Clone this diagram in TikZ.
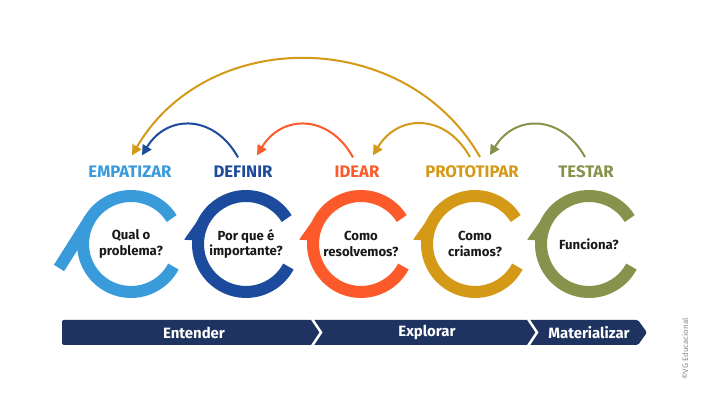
\documentclass[tikz,border=0pt]{standalone}
\usepackage{fontspec}
\setmainfont{Fira Sans}
\usetikzlibrary{arrows.meta,positioning}
\definecolor{cEmp}{HTML}{3A9BDA}
\definecolor{cDef}{HTML}{1C4A9C}
\definecolor{cIde}{HTML}{FD5A2B}
\definecolor{cPro}{HTML}{D49A17}
\definecolor{cTes}{HTML}{87924C}
\definecolor{cBar}{HTML}{1F3360}
\tikzset{
  ring/.style={line width=0.24cm},
  head/.style={font=\fontsize{9.5}{11}\selectfont\bfseries, inner sep=0.17cm},
  quest/.style={font=\fontsize{7.5}{9}\selectfont\bfseries, align=center, text=black!90},
  phase/.style={font=\fontsize{8.5}{10}\selectfont\bfseries, text=white},
}
\begin{document}
\begin{tikzpicture}[x=0.02cm,y=0.02cm]
    \fill[white] (0,0) rectangle (701,401);
    \useasboundingbox (0,0) rectangle (701,401);

    % rings and questions
    \foreach \n/\cx/\col/\q in {emp/131/cEmp/{Qual o\\problema?}, def/246/cDef/{Por que é\\importante?}, ide/361/cIde/{Como\\resolvemos?}, pro/475/cPro/{Como\\criamos?}, tes/589/cTes/{Funciona?}}{
        \begin{scope}[shift={(\cx,157)}]
            \draw[ring,\col] (32:48) arc[start angle=32, end angle=332, radius=48];
            \node[quest] (q-\n) at (0,0) {\q};
        \end{scope}
    }
    % barbs
    \foreach \cx/\col in {246/cDef, 361/cIde, 475/cPro, 589/cTes}{
        \fill[\col, shift={(\cx,157)}] (146:53) -- (176:62) -- (176:48) -- (146:48) -- cycle;
    }
    % tail of the first ring
    \draw[ring,cEmp, shift={(131,157)}] (148:48) -- (-72,-24);

    % stage names
    \node[head, text=cEmp] (emp) at (130,229) {EMPATIZAR};
    \node[head, text=cDef] (def) at (243,229) {DEFINIR};
    \node[head, text=cIde] (ide) at (357,229) {IDEAR};
    \node[head, text=cPro] (pro) at (472,229) {PROTOTIPAR};
    \node[head, text=cTes] (tes) at (586,229) {TESTAR};

    % going back
    \begin{scope}[every path/.style={-{Triangle[length=0.2cm,width=0.2cm]}, line width=0.04cm}]
        \path ([xshift=-0.1cm]def.north) edge[cDef, bend right=60, looseness=1.3] ([xshift=0.24cm,yshift=0.04cm]emp.north);
        \path ([xshift=-0.08cm]ide.north) edge[cIde, bend right=60, looseness=1.3] ([xshift=0.28cm,yshift=0.04cm]def.north);
        \path ([xshift=-0.04cm]pro.north) edge[cPro, bend right=60, looseness=1.3] ([xshift=0.32cm,yshift=0.04cm]ide.north);
        \path ([xshift=-0.02cm]tes.north) edge[cTes, bend right=60, looseness=1.3] ([xshift=0.36cm,yshift=0.04cm]pro.north);
        \path ([xshift=0.16cm]pro.north) edge[cPro, bend right=60, looseness=1.1] ([xshift=0.04cm,yshift=0.04cm]emp.north);
    \end{scope}

    % phases
    \fill[cBar, rounded corners=0.03cm] (62,56) -- (62,81) -- (638,81) -- (647,68.5) -- (638,56) -- cycle;
    \draw[white, line width=0.05cm] (312,82) -- (321,68.5) -- (312,55);
    \draw[white, line width=0.05cm] (528,82) -- (537,68.5) -- (528,55);
    \node[phase] (ent) at (194,68.5) {Entender};
    \node[phase] (exp) at (427,68.5) {Explorar};
    \node[phase] (mat) at (589,68.5) {Materializar};

    \node[rotate=90, text=black!45, font=\fontsize{4.5}{5}\selectfont] (vg) at (685,52) {©VG Educacional};
\end{tikzpicture}
\end{document}
